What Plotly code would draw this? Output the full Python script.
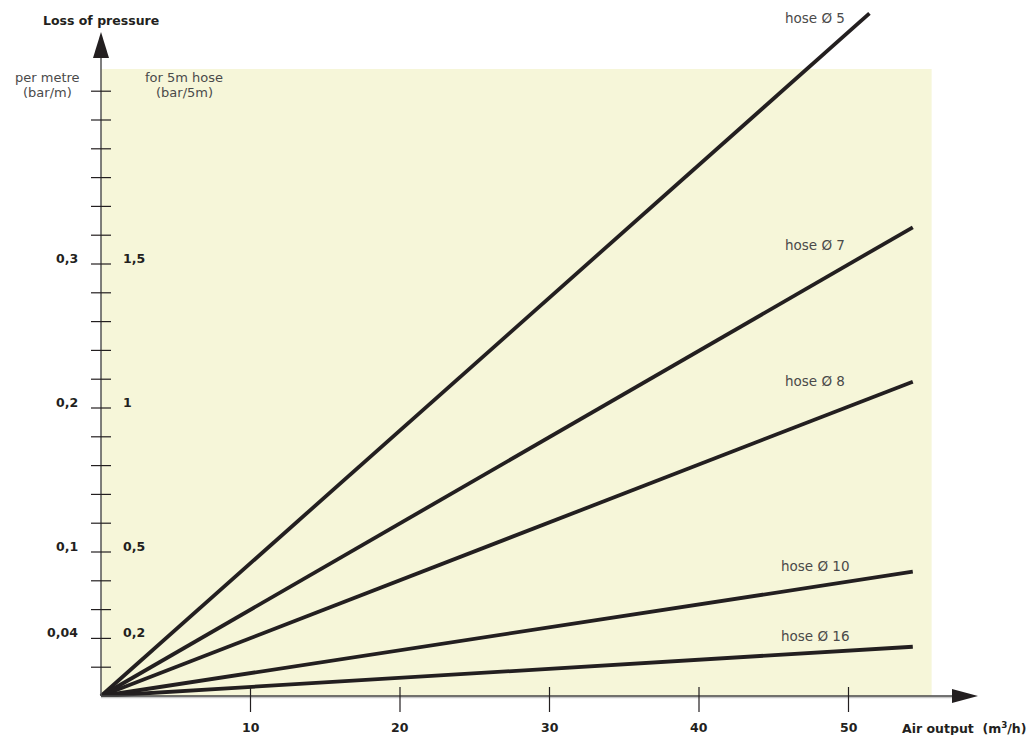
import plotly.graph_objects as go

# air output ticks (m3/h)
flow_ticks = [10, 20, 30, 40, 50]
# loss per metre ticks (bar/m), minor every 0.02
loss_ticks = [0.02, 0.04, 0.06, 0.08, 0.10, 0.12, 0.14, 0.16, 0.18, 0.20,
              0.22, 0.24, 0.26, 0.28, 0.30, 0.32, 0.34, 0.36, 0.38, 0.40, 0.42]
loss_labels_m = {0.04: "0,04", 0.10: "0,1", 0.20: "0,2", 0.30: "0,3"}
loss_labels_5m = {0.04: "0,2", 0.10: "0,5", 0.20: "1", 0.30: "1,5"}

# hose lines: start at origin, end points
hoses = ["hose Ø 5", "hose Ø 7", "hose Ø 8", "hose Ø 10", "hose Ø 16"]
flow_end = [51.4, 54.3, 54.3, 54.3, 54.3]
loss_end = [0.474, 0.3255, 0.2183, 0.0863, 0.0342]
label_loss = [0.471, 0.313, 0.219, 0.0903, 0.0417]

zone_flow = 55.56
zone_loss = 0.4354

# pixel mapping: x_px = 101 + 14.95*x, y_px = 696 - 1440*y
W, H = 1029, 735
px_x, x0 = 14.95, 101
px_y, y0 = 1440, 696
xr = [-x0 / px_x, (W - x0) / px_x]
yr = [(y0 - H) / px_y, y0 / px_y]
dx = 1 / px_x   # one pixel in data units
dy = 1 / px_y

FONT = "DejaVu Sans"
INK = "#231f20"
BOLD = dict(size=12.5, color=INK, family=FONT)
THIN = dict(size=13.5, color="#4a4a4a", family=FONT)
THIN_S = dict(size=13, color="#4a4a4a", family=FONT)

fig = go.Figure()
shapes = []
ann = []

# pale yellow zone
shapes.append(dict(type="rect", x0=0, x1=zone_flow, y0=0, y1=zone_loss,
                   fillcolor="#f6f6d9", line_width=0, layer="below"))

# axes
shapes.append(dict(type="line", x0=0, x1=0, y0=0, y1=(y0 - 50) / px_y,
                   line=dict(color="#555", width=1.5)))
shapes.append(dict(type="line", x0=0, x1=(955 - x0) / px_x, y0=-1.5 * dy, y1=-1.5 * dy,
                   line=dict(color="#c8c8c8", width=1.5)))
shapes.append(dict(type="line", x0=0, x1=(955 - x0) / px_x, y0=0, y1=0,
                   line=dict(color="#444", width=1.5)))
# arrow heads
ty = (y0 - 32) / px_y
shapes.append(dict(type="path",
                   path=f"M {-8*dx} {ty - 26*dy} L {8*dx} {ty - 26*dy} L 0 {ty} Z",
                   fillcolor=INK, line_width=0))
tx = (978 - x0) / px_x
shapes.append(dict(type="path",
                   path=f"M {tx - 26*dx} {7*dy} L {tx - 26*dx} {-7*dy} L {tx} 0 Z",
                   fillcolor=INK, line_width=0))

# y ticks
for v in loss_ticks:
    shapes.append(dict(type="line", x0=-10 * dx, x1=10 * dx, y0=v, y1=v,
                       line=dict(color=INK, width=1.2)))
    k = round(v, 2)
    if k in loss_labels_m:
        ann.append(dict(x=-21 * dx, y=v + 6 * dy, text=f"<b>{loss_labels_m[k]}</b>",
                        xanchor="right", yanchor="middle", showarrow=False, font=BOLD))
        ann.append(dict(x=20 * dx, y=v + 6 * dy, text=f"<b>{loss_labels_5m[k]}</b>",
                        xanchor="left", yanchor="middle", showarrow=False, font=BOLD))

# x ticks
for f in flow_ticks:
    shapes.append(dict(type="line", x0=f, x1=f, y0=9 * dy, y1=-16 * dy,
                       line=dict(color=INK, width=1.2)))
    ann.append(dict(x=f, y=-31 * dy, text=f"<b>{f}</b>", showarrow=False,
                    xanchor="center", yanchor="middle", font=BOLD))

# hose lines
for name, fe, le, ll in zip(hoses, flow_end, loss_end, label_loss):
    fig.add_trace(go.Scatter(x=[0, fe], y=[0, le], mode="lines", name=name,
                             line=dict(color=INK, width=3.8), hoverinfo="name"))
    ann.append(dict(x=(815 - x0) / px_x, y=ll, text=name, showarrow=False,
                    xanchor="center", yanchor="middle", font=THIN))

# titles
ann.append(dict(x=0, y=(y0 - 20) / px_y, text="<b>Loss of pressure</b>", showarrow=False,
                xanchor="center", yanchor="middle", font=BOLD))
ann.append(dict(x=(964 - x0) / px_x, y=-32 * dy, text="<b>Air output  (m<sup>3</sup>/h)</b>",
                showarrow=False, xanchor="center", yanchor="middle", font=BOLD))
for cx, lines in [(47, ["per metre", "(bar/m)"]), (184, ["for 5m hose", "(bar/5m)"])]:
    for i, t in enumerate(lines):
        ann.append(dict(x=(cx - x0) / px_x, y=(y0 - 77 - 15 * i) / px_y, text=t,
                        showarrow=False, xanchor="center", yanchor="middle", font=THIN_S))

fig.update_layout(
    width=W, height=H, margin=dict(l=0, r=0, t=0, b=0),
    paper_bgcolor="white", plot_bgcolor="white", showlegend=False,
    xaxis=dict(range=xr, visible=False, fixedrange=True),
    yaxis=dict(range=yr, visible=False, fixedrange=True),
    shapes=shapes, annotations=ann,
)
fig.write_html("out.html", config={"displayModeBar": False},
               post_script="document.body.style.margin='0';")
